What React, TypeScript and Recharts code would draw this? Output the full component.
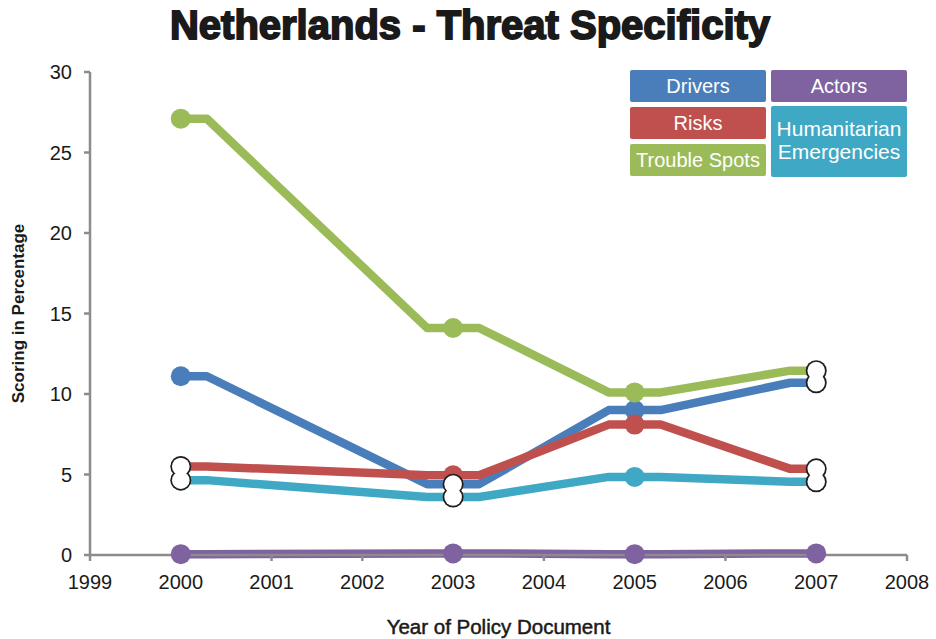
import React from 'react';
import { ComposedChart, Line, Scatter, XAxis, YAxis, Label } from 'recharts';

// Policy document years and scores (percent) per threat category
const years = [2000, 2003, 2005, 2007];
const drivers = [11.1, 4.4, 9.0, 10.7];
const risks = [5.5, 4.95, 8.1, 5.35];
const troubleSpots = [27.1, 14.1, 10.1, 11.45];
const actors = [0.05, 0.1, 0.05, 0.1];
const humanitarian = [4.65, 3.6, 4.85, 4.55];

const xTicks = [1999, 2000, 2001, 2002, 2003, 2004, 2005, 2006, 2007, 2008];
const yTicks = [0, 5, 10, 15, 20, 25, 30];

// Points shown with open (white) markers: [series key, year]
const openMarkers: [string, number][] = [
  ['risks', 2000],
  ['humanitarian', 2000],
  ['drivers', 2003],
  ['humanitarian', 2003],
  ['troubleSpots', 2007],
  ['drivers', 2007],
  ['risks', 2007],
  ['humanitarian', 2007],
];

const FONT = '"Liberation Sans", Arial, Helvetica, sans-serif';

const series = [
  { key: 'drivers', name: 'Drivers', values: drivers, color: '#4a7ebb' },
  { key: 'risks', name: 'Risks', values: risks, color: '#c0504d' },
  { key: 'troubleSpots', name: 'Trouble Spots', values: troubleSpots, color: '#9bbb59' },
  { key: 'humanitarian', name: 'Humanitarian Emergencies', values: humanitarian, color: '#3fa9c5' },
  { key: 'actors', name: 'Actors', values: actors, color: '#7f62a0' },
];

const rows = years.map((year, i) => {
  const row: Record<string, number> = { year };
  series.forEach((s) => {
    row[s.key] = s.values[i];
  });
  return row;
});

const markerData = openMarkers.map(([key, year]) => {
  const s = series.find((d) => d.key === key)!;
  return { year, value: s.values[years.indexOf(year)] };
});

// Curve that gives every point a short level "shoulder" on each side
const SHOULDER = 26;
const shoulderCurve: any = (context: any) => {
  let pts: [number, number][] = [];
  return {
    areaStart() {},
    areaEnd() {},
    lineStart() {
      pts = [];
    },
    lineEnd() {
      pts.forEach(([x, y], i) => {
        const first = i === 0;
        const last = i === pts.length - 1;
        if (first) context.moveTo(x, y);
        else context.lineTo(x - SHOULDER, y);
        if (!last) context.lineTo(x + SHOULDER, y);
        else if (!first) context.lineTo(x, y);
      });
    },
    point(x: number, y: number) {
      pts.push([+x, +y]);
    },
  };
};

// Legend tile placement: column, row, row span
const legendCells: Record<string, { col: number; row: number; span: number }> = {
  drivers: { col: 0, row: 0, span: 1 },
  risks: { col: 0, row: 1, span: 1 },
  troubleSpots: { col: 0, row: 2, span: 1 },
  actors: { col: 1, row: 0, span: 1 },
  humanitarian: { col: 1, row: 1, span: 2 },
};

const LegendTiles = () => (
  <div style={{ position: 'absolute', left: 630, top: 70, width: 277, height: 107 }}>
    {series.map((s) => {
      const c = legendCells[s.key];
      const top = c.row === 0 ? 0 : c.row === 1 ? 37 : 74;
      const isTall = c.span === 2;
      return (
        <div
          key={s.key}
          style={{
            position: 'absolute',
            left: c.col * 141,
            top: isTall ? 36 : top,
            width: 136,
            height: isTall ? 71 : 32,
            background: s.color,
            borderRadius: 2,
            color: '#fff',
            fontFamily: FONT,
            fontSize: isTall ? 21 : 20,
            lineHeight: '23px',
            display: 'flex',
            alignItems: 'center',
            justifyContent: 'center',
            textAlign: 'center',
            whiteSpace: isTall ? 'normal' : 'nowrap',
            boxSizing: 'border-box',
            paddingBottom: isTall ? 4 : 0,
          }}
        >
          {s.name}
        </div>
      );
    })}
  </div>
);

export default function App() {
  return (
    <div style={{ position: 'absolute', left: 0, top: 0, width: 936, height: 639, background: '#fff' }}>
      <div
        style={{
          position: 'absolute',
          left: 0,
          top: 2,
          width: 940,
          textAlign: 'center',
          fontFamily: FONT,
          fontWeight: 'bold',
          fontSize: 40,
          lineHeight: '46px',
          color: '#1a1a1a',
          WebkitTextStroke: '1.8px #1a1a1a',
        }}
      >
        Netherlands - Threat Specificity
      </div>
      <ComposedChart
        width={936}
        height={639}
        data={rows}
        margin={{ top: 72, right: 29, bottom: 44, left: 30 }}
      >
        <XAxis
          dataKey="year"
          type="number"
          domain={[1999, 2008]}
          ticks={xTicks}
          allowDataOverflow
          stroke="#8c8c8c"
          strokeWidth={2.5}
          tickSize={6}
          tickMargin={14}
          height={40}
          tick={{ fill: '#1a1a1a', fontSize: 20, fontFamily: FONT }}
        >
          <Label
            content={({ viewBox }: any) => (
              <text
                x={viewBox.x + viewBox.width / 2}
                y={viewBox.y + 79}
                textAnchor="middle"
                fontFamily={FONT}
                fontSize={20.5}
                fill="#1a1a1a"
                stroke="#1a1a1a"
                strokeWidth={0.5}
              >
                Year of Policy Document
              </text>
            )}
          />
        </XAxis>
        <YAxis
          type="number"
          domain={[0, 30]}
          ticks={yTicks}
          stroke="#8c8c8c"
          strokeWidth={2.5}
          tickSize={6}
          tickMargin={12}
          width={60}
          tick={{ fill: '#1a1a1a', fontSize: 20, fontFamily: FONT }}
        >
          <Label
            content={({ viewBox }: any) => {
              const cx = viewBox.x - 12;
              const cy = viewBox.y + viewBox.height / 2;
              return (
                <text
                  x={cx}
                  y={cy}
                  transform={`rotate(-90 ${cx} ${cy})`}
                  textAnchor="middle"
                  dominantBaseline="central"
                  fontFamily={FONT}
                  fontWeight="bold"
                  fontSize={17}
                  fill="#1a1a1a"
                >
                  Scoring in Percentage
                </text>
              );
            }}
          />
        </YAxis>
        {series.map((s) => (
          <Line
            key={s.key}
            dataKey={s.key}
            name={s.name}
            type={shoulderCurve}
            stroke={s.color}
            strokeWidth={8.5}
            strokeLinejoin="round"
            dot={{ r: 10, fill: s.color, stroke: 'none', strokeWidth: 0 }}
            activeDot={false}
            isAnimationActive={false}
          />
        ))}
        <Scatter
          data={markerData}
          dataKey="value"
          legendType="none"
          isAnimationActive={false}
          shape={(p: any) => <circle cx={p.cx} cy={p.cy} r={10.5} fill="#1e1e1e" />}
        />
        <Scatter
          data={markerData}
          dataKey="value"
          legendType="none"
          isAnimationActive={false}
          shape={(p: any) => <circle cx={p.cx} cy={p.cy} r={8.8} fill="#ffffff" />}
        />
      </ComposedChart>
      <LegendTiles />
    </div>
  );
}
